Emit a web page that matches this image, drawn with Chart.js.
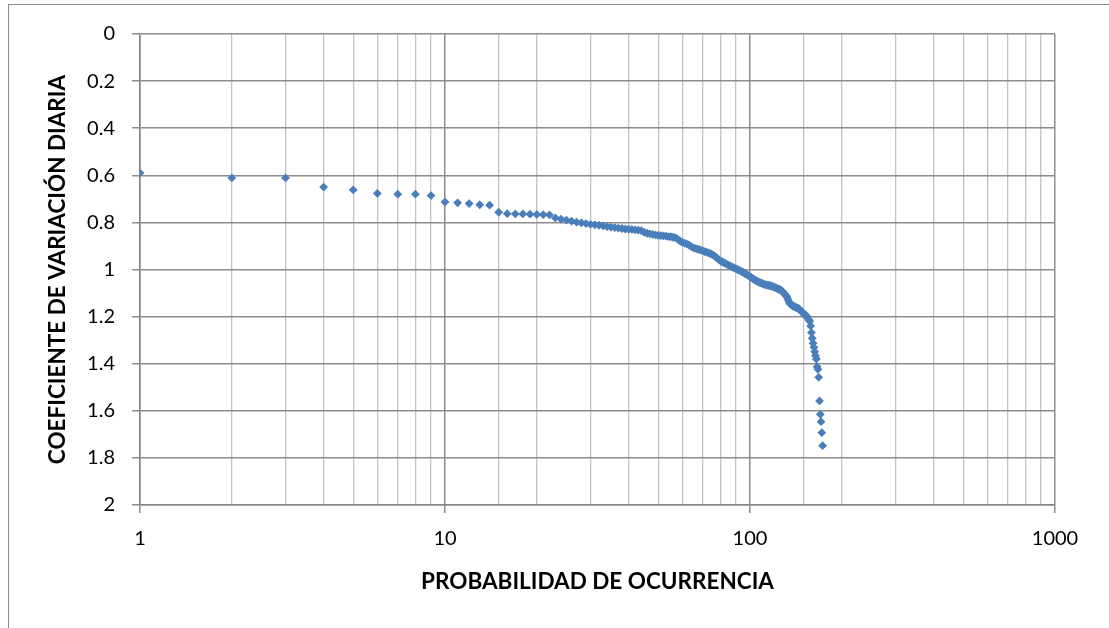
<!DOCTYPE html>
<html>
<head>
<meta charset="utf-8">
<script src="https://cdn.jsdelivr.net/npm/chart.js@4.4.1/dist/chart.umd.min.js"></script>
<style>
  html, body { margin: 0; padding: 0; background: #fff; overflow: hidden; }
  #wrap { position: absolute; left: 0; top: 0; width: 1109px; height: 628px; }
  #frame { position: absolute; left: 8px; top: 4px; width: 1200px; height: 700px; border: 1px solid #8c8c8c; box-sizing: border-box; }
  canvas { position: absolute; left: 0; top: 0; }
</style>
</head>
<body>
<div id="wrap">
  <div id="frame"></div>
  <canvas id="cvChart" width="1109" height="628"></canvas>
</div>
<script>
// rank (probabilidad de ocurrencia) 1..N and sorted coefficient values
var coefValues = [
  0.590, 0.611, 0.611, 0.650, 0.662, 0.677, 0.680, 0.680, 0.686, 0.713,
  0.717, 0.720, 0.725, 0.727, 0.757, 0.763, 0.764, 0.764, 0.765, 0.766,
  0.767, 0.768, 0.781, 0.786, 0.790, 0.795, 0.799, 0.802, 0.805, 0.808,
  0.810, 0.812, 0.815, 0.818, 0.820, 0.822, 0.824, 0.826, 0.828, 0.829,
  0.830, 0.832, 0.833, 0.835, 0.842, 0.846, 0.849, 0.851, 0.853, 0.855,
  0.856, 0.857, 0.858, 0.860, 0.861, 0.863, 0.865, 0.872, 0.879, 0.885,
  0.888, 0.891, 0.896, 0.902, 0.907, 0.910, 0.912, 0.915, 0.918, 0.921,
  0.924, 0.926, 0.929, 0.932, 0.936, 0.940, 0.945, 0.952, 0.958, 0.963,
  0.967, 0.971, 0.974, 0.978, 0.981, 0.985, 0.988, 0.991, 0.994, 0.997,
  1.000, 1.003, 1.006, 1.009, 1.012, 1.016, 1.020, 1.023, 1.027, 1.030,
  1.034, 1.038, 1.042, 1.045, 1.048, 1.051, 1.054, 1.056, 1.058, 1.060,
  1.062, 1.064, 1.065, 1.066, 1.067, 1.068, 1.070, 1.071, 1.073, 1.075,
  1.077, 1.079, 1.081, 1.083, 1.085, 1.087, 1.090, 1.094, 1.099, 1.105,
  1.110, 1.115, 1.125, 1.135, 1.144, 1.148, 1.151, 1.154, 1.156, 1.158,
  1.160, 1.162, 1.164, 1.165, 1.168, 1.172, 1.176, 1.180, 1.184, 1.188,
  1.191, 1.193, 1.197, 1.202, 1.208, 1.214, 1.220, 1.240, 1.268, 1.292,
  1.313, 1.330, 1.349, 1.366, 1.380, 1.413, 1.424, 1.458, 1.558, 1.615,
  1.646, 1.693, 1.748
];
var xTitle = 'PROBABILIDAD DE OCURRENCIA';
var yTitle = 'COEFICIENTE DE VARIACIÓN DIARIA';
var xMin = 1, xMax = 1000;
var yMin = 0, yMax = 2, yStep = 0.2;

var points = coefValues.map(function (v, i) { return { x: i + 1, y: v }; });

function isDecade(v) {
  var l = Math.log10(v);
  return Math.abs(l - Math.round(l)) < 1e-9;
}

var fontFam = 'Lato, "Open Sans", sans-serif';
var config = {
  type: 'scatter',
  data: {
    datasets: [{
      data: points,
      pointStyle: 'rectRot',
      pointRadius: 4.4,
      backgroundColor: '#4a7ebb',
      borderColor: '#4a7ebb',
      borderWidth: 0
    }]
  },
  options: {
    responsive: false,
    animation: false,
    locale: 'en-US',
    layout: { padding: { left: 44, top: 34, right: 54, bottom: 33 } },
    plugins: { legend: { display: false }, tooltip: { enabled: false } },
    scales: {
      x: {
        type: 'logarithmic',
        min: xMin,
        max: xMax,
        afterFit: function (s) { s.height = 90; },
        border: { color: '#868686', width: 1.5 },
        grid: {
          color: function (c) { return c.tick && isDecade(c.tick.value) ? '#8c8c8c' : '#c4c4c4'; },
          lineWidth: function (c) { return c.tick && isDecade(c.tick.value) ? 1.5 : 1.3; },
          tickColor: function (c) { return c.tick && isDecade(c.tick.value) ? '#8c8c8c' : 'rgba(0,0,0,0)'; },
          tickLength: 8
        },
        ticks: {
          autoSkip: false,
          maxRotation: 0,
          padding: 14,
          color: '#000',
          font: { family: fontFam, size: 20 },
          callback: function (v) { return isDecade(v) ? String(v) : ''; }
        },
        title: {
          display: true,
          text: xTitle,
          color: '#000',
          padding: 0,
          font: { family: fontFam, size: 22.5, weight: 'bold' }
        }
      },
      y: {
        type: 'linear',
        reverse: true,
        min: yMin,
        max: yMax,
        afterFit: function (s) { s.width = 96; },
        border: { color: '#868686', width: 1.5 },
        grid: { color: '#8c8c8c', lineWidth: 1.5, tickLength: 8 },
        ticks: {
          stepSize: yStep,
          padding: 17,
          color: '#000',
          font: { family: fontFam, size: 20 },
          callback: function (v) { return String(Math.round(v * 10) / 10); }
        },
        title: {
          display: true,
          text: yTitle,
          color: '#000',
          padding: 0,
          font: { family: fontFam, size: 22.5, weight: 'bold' }
        }
      }
    }
  }
};

var ctx = document.getElementById('cvChart');
window.cvChart = new Chart(ctx, config);
</script>
</body>
</html>
